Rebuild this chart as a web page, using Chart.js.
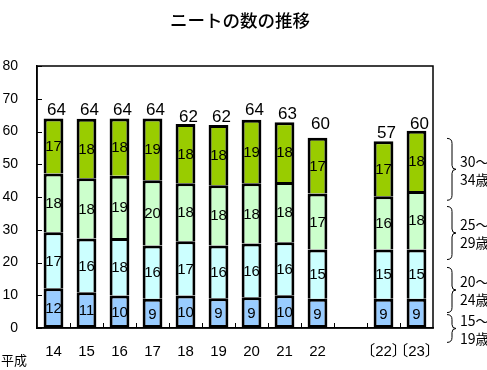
<!DOCTYPE html>
<html lang="ja">
<head>
  <meta charset="UTF-8">
  <title>ニートの数の推移</title>
  <script src="https://cdn.jsdelivr.net/npm/chart.js"></script>
  <style>
    body { margin: 0; background: #fff; }
    canvas { display: block; }
  </style>
</head>
<body>
  <canvas id="neetChart" width="487" height="370"></canvas>

  <script>
    // 平成14年〜22年, 空き, 〔22〕〔23〕 (万人)
    const categories = ['14', '15', '16', '17', '18', '19', '20', '21', '22', '', '〔22〕', '〔23〕'];
    const age15to19 = [12.1, 10.9, 9.9, 8.9, 9.9, 9.1, 9.4, 10.0, 8.9, null, 8.9, 8.9];
    const age20to24 = [17.1, 16.4, 17.6, 16.3, 16.6, 16.1, 16.4, 16.2, 15.1, null, 15.1, 15.1];
    const age25to29 = [18.0, 18.4, 19.0, 19.9, 17.7, 18.4, 18.4, 18.4, 17.1, null, 16.2, 17.8];
    const age30to34 = [16.8, 18.2, 17.5, 18.9, 18.1, 18.4, 19.4, 18.2, 17.0, null, 16.8, 18.4];
    const totals = [64, 64, 64, 64, 62, 62, 64, 63, 60, null, 57, 60];
    const yTicks = [0, 10, 20, 30, 40, 50, 60, 70, 80];

    // right-hand brace notes: label lines and the value range each brace spans
    const groupNotes = [
      { lines: ['30～', '34歳'], from: 57.9, to: 39.0 },
      { lines: ['25～', '29歳'], from: 37.1, to: 20.9 },
      { lines: ['20～', '24歳'], from: 18.5, to: 4.7 },
      { lines: ['15～', '19歳'], from: 4.1, to: -4.4 }
    ];

    const FONT = '"Liberation Sans", "Noto Sans CJK JP", sans-serif';
    const JP = '"Noto Sans CJK JP", "Liberation Sans", sans-serif';

    const decorations = {
      id: 'decorations',
      afterDatasetsDraw(chart) {
        const { ctx, chartArea: a, scales: { x, y } } = chart;
        ctx.save();

        // frame + inward ticks
        ctx.strokeStyle = '#000';
        ctx.lineWidth = 1.5;
        ctx.strokeRect(a.left, a.top, a.right - a.left, a.bottom - a.top);
        ctx.lineWidth = 1;
        ctx.beginPath();
        yTicks.forEach(v => {
          const py = Math.round(y.getPixelForValue(v)) + 0.5;
          ctx.moveTo(a.left, py);
          ctx.lineTo(a.left + 5, py);
        });
        const step = (a.right - a.left) / categories.length;
        for (let k = 1; k < categories.length; k++) {
          const px = Math.round(a.left + k * step) + 0.5;
          ctx.moveTo(px, a.bottom);
          ctx.lineTo(px, a.bottom - 5);
        }
        ctx.stroke();

        // values inside segments
        ctx.fillStyle = '#000';
        ctx.textAlign = 'center';
        ctx.textBaseline = 'middle';
        ctx.font = '15px ' + FONT;
        chart.data.datasets.forEach((ds, di) => {
          chart.getDatasetMeta(di).data.forEach((bar, i) => {
            if (ds.data[i] == null) return;
            ctx.fillText(Math.round(ds.data[i]), bar.x, (bar.y + bar.base) / 2 + 1);
          });
        });

        // totals above bars
        ctx.font = '17px ' + FONT;
        ctx.textBaseline = 'alphabetic';
        const meta = chart.getDatasetMeta(0);
        totals.forEach((t, i) => {
          if (t == null) return;
          ctx.fillText(t, meta.data[i].x + 3, y.getPixelForValue(t) - 3);
        });

        // braces and age group notes
        ctx.lineWidth = 1;
        groupNotes.forEach(g => {
          const top = y.getPixelForValue(g.from);
          const bot = y.getPixelForValue(g.to);
          const mid = (top + bot) / 2;
          const x0 = 447, x1 = 452, x2 = 456;
          ctx.beginPath();
          ctx.moveTo(x0, top);
          ctx.quadraticCurveTo(x1, top, x1, top + 5);
          ctx.lineTo(x1, mid - 4);
          ctx.quadraticCurveTo(x1, mid, x2, mid);
          ctx.quadraticCurveTo(x1, mid, x1, mid + 4);
          ctx.lineTo(x1, bot - 5);
          ctx.quadraticCurveTo(x1, bot, x0, bot);
          ctx.stroke();
          ctx.font = '14px ' + JP;
          ctx.textAlign = 'left';
          ctx.textBaseline = 'middle';
          ctx.fillText(g.lines[0], 460, mid - 8);
          ctx.fillText(g.lines[1], 460, mid + 10);
        });

        // title and era mark
        ctx.textAlign = 'center';
        ctx.font = '500 17.5px ' + JP;
        ctx.fillText('ニートの数の推移', 240, 20);
        ctx.textAlign = 'left';
        ctx.font = '13px ' + JP;
        ctx.fillText('平成', 1, 360);
        ctx.restore();
      }
    };

    // bottom segment gets a full border, the ones stacked on it skip their bottom edge
    const bar = (label, data, color, first) => ({
      label, data,
      backgroundColor: color,
      borderColor: '#000',
      borderWidth: 3,
      borderSkipped: first ? false : 'start',
      barPercentage: 0.6,
      categoryPercentage: 1.0
    });

    new Chart(document.getElementById('neetChart'), {
      type: 'bar',
      data: {
        labels: categories,
        datasets: [
          bar('15～19歳', age15to19, '#99ccff', true),
          bar('20～24歳', age20to24, '#ccffff'),
          bar('25～29歳', age25to29, '#ccffcc'),
          bar('30～34歳', age30to34, '#99cc00')
        ]
      },
      options: {
        responsive: false,
        animation: false,
        layout: { padding: { top: 66, right: 54, bottom: 0, left: 0 } },
        plugins: {
          legend: { display: false },
          title: { display: false },
          tooltip: { enabled: false }
        },
        scales: {
          x: {
            stacked: true,
            grid: { display: false, drawTicks: false },
            border: { color: '#000', width: 1.5 },
            ticks: { color: '#000', font: { size: 15, family: FONT }, autoSkip: false, maxRotation: 0, padding: 15 },
            afterFit: s => { s.height = 42; }
          },
          y: {
            stacked: true,
            min: 0,
            max: 80,
            grid: { display: false, drawTicks: false },
            border: { color: '#000', width: 1.5 },
            ticks: { stepSize: 10, color: '#000', font: { size: 14, family: FONT }, padding: 19 },
            afterFit: s => { s.width = 37; }
          }
        }
      },
      plugins: [decorations]
    });
  </script>
</body>
</html>
